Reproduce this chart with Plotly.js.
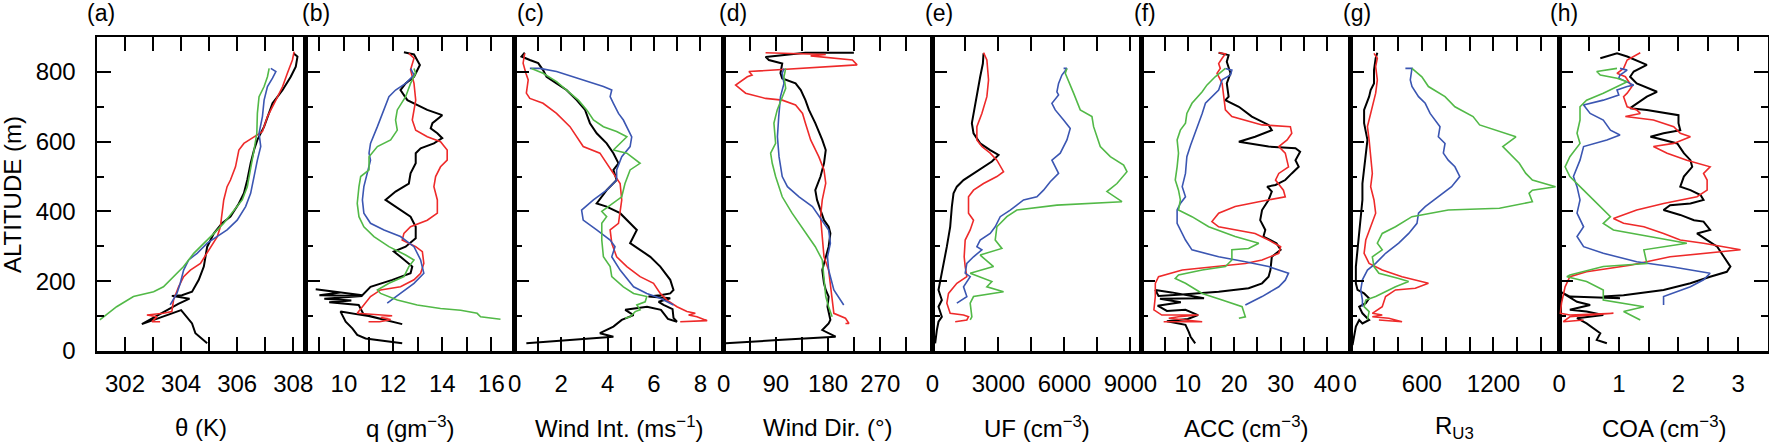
<!DOCTYPE html>
<html>
<head>
<meta charset="utf-8">
<script src="https://cdn.plot.ly/plotly-3.0.1.min.js"></script>
<style>
  html, body { margin: 0; padding: 0; background: #fff; }
  #graph { width: 1769px; height: 445px; }
</style>
</head>
<body>
<div id="graph"></div>
<script>
// (a) potential temperature, K
var thetaBlack = [308.01,308.15,308.09,307.91,307.62,307.26,306.96,306.72,306.6,306.48,306.36,306.24,306.06,305.76,305.46,305.17,304.93,304.81,304.63,304.39,304.03,303.67,304.3,303.9,302.6,303.7,304.0,304.39,304.51,304.93];
var thetaBlackAlt = [853,844,815,786,748,710,643,605,576,538,490,452,423,385,366,337,299,242,204,170,160,158,150,135,77,110,117,79,51,22];
var thetaRed = [308.03,307.97,307.79,307.62,307.38,307.08,306.9,306.6,306.24,306.06,305.94,305.76,305.64,305.52,305.46,305.4,305.29,304.93,304.69,304.33,304.09,303.91,303.73,303.67,303.37,302.78,303.14,302.96,303.25];
var thetaRedAlt = [858,834,796,758,719,672,629,614,595,576,528,490,471,433,395,356,328,280,251,232,213,184,146,113,108,103,98,84,84];
var thetaBlue = [307.2,307.38,307.26,307.08,306.96,306.9,306.78,306.84,306.72,306.6,306.48,306.3,306.0,305.64,305.29,304.93,304.57,304.27,304.09,303.97,303.85,303.61];
var thetaBlueAlt = [810,801,782,758,719,672,624,586,547,500,452,414,375,347,328,309,280,261,232,194,165,132];
var thetaGreen = [307.14,307.08,306.96,306.78,306.72,306.7,306.6,306.48,306.36,306.18,305.88,305.52,305.17,304.81,304.45,304.09,303.73,303.37,303.02,302.3,301.7,301.1];
var thetaGreenAlt = [810,786,758,729,681,624,576,528,471,433,404,366,337,309,280,242,213,184,170,156,127,89];

// (b) humidity, g m-3
var qBlack = [12.44,12.85,13.09,12.85,12.51,12.3,12.58,13.39,14.0,13.6,13.53,13.8,14.0,13.66,13.12,12.92,12.92,12.71,12.64,12.1,11.69,12.1,12.71,12.92,12.92,12.51,12.03,12.3,12.78,12.71,11.97,11.08,10.81,10.75,8.85,9.85,9.0,10.75,9.2,10.3,9.4,10.6,10.8,12.37,11.0,9.86,10.07,10.34,10.54,10.88,12.37];
var qBlackAlt = [856,850,820,786,767,748,719,691,676,653,638,624,610,595,581,567,538,509,480,457,433,414,385,356,323,299,285,270,242,223,204,184,165,160,177,168,160,158,150,145,140,132,105,77,100,113,84,65,46,36,22];
var qRed = [12.64,12.85,12.71,12.85,12.92,12.78,12.92,13.39,13.93,14.2,14.2,13.93,13.73,13.66,13.8,13.8,13.39,12.71,12.44,12.37,12.92,13.19,13.25,13.12,12.85,12.3,11.49,11.08,10.75,10.54,11.96,11.5,11.9,11.45,11.0];
var qRedAlt = [853,839,806,767,719,662,633,614,600,576,547,528,500,471,433,395,375,356,337,318,299,285,251,223,204,184,175,156,127,108,101,96,90,84,84];
var qBlue = [12.71,12.85,12.51,12.1,11.83,11.63,11.36,11.08,11.02,11.08,10.95,10.81,10.75,10.81,11.08,11.63,12.3,12.85,13.12,13.25,12.85,12.3,11.76];
var qBlueAlt = [810,791,767,748,729,691,643,595,567,547,509,471,433,395,366,347,328,299,261,223,194,165,137];
var qGreen = [12.85,12.92,12.71,12.51,12.17,12.1,12.17,11.9,11.36,11.02,11.02,10.68,10.61,10.54,10.61,10.81,11.22,11.83,12.51,12.85,12.64,12.44,11.83,11.36,11.49,12.17,12.98,13.93,14.75,15.42,15.56,16.37];
var qGreenAlt = [810,796,767,729,691,662,633,605,586,557,519,500,471,423,385,356,328,299,275,261,242,213,194,175,165,146,132,122,117,108,98,91];

// (c) wind intensity, m s-1
var windBlack = [0.43,0.29,0.65,1.01,1.22,1.37,1.8,2.23,2.67,3.03,3.24,3.53,3.96,4.25,4.47,4.25,4.39,3.96,3.53,3.96,4.54,4.97,5.26,4.97,5.4,5.84,6.27,6.7,6.84,6.7,6.27,5.76,6.7,6.2,6.41,6.8,6.84,6.99,6.6,6.3,5.7,4.76,5.12,4.61,4.25,3.67,4.25,3.82,0.5];
var windBlackAlt = [855,844,834,825,805,786,767,748,719,691,653,624,595,567,538,519,490,461,423,414,395,366,347,309,290,270,242,204,175,165,160,156,151,141,132,120,95,84,92,118,127,118,103,89,70,51,41,39,22];
var windRed = [0.43,0.36,0.48,0.58,0.5,0.65,1.22,1.8,2.38,2.67,2.95,3.67,3.96,4.25,4.54,4.61,4.54,4.47,4.11,4.18,4.39,4.83,5.4,5.98,6.27,6.56,6.99,7.42,7.78,7.49,7.85,8.29,7.13];
var windRedAlt = [853,825,796,777,739,724,710,681,643,614,586,567,538,509,480,433,395,366,347,309,270,242,213,194,165,146,127,113,108,103,98,87,84];
var windBlue = [0.65,1.08,1.8,2.52,3.24,3.82,4.18,4.11,4.25,4.47,4.68,4.83,5.04,4.97,4.61,4.39,4.39,3.96,3.39,2.88,2.95,3.53,4.11,4.32,4.18,4.54,5.12,5.69,6.27,6.84];
var windBlueAlt = [810,810,801,786,772,758,748,729,710,681,662,643,614,586,557,519,490,461,433,404,375,347,318,299,270,232,184,165,151,132];
var windGreen = [0.72,1.22,1.8,2.23,2.74,3.1,3.39,3.82,4.39,4.83,4.54,4.25,4.83,5.4,4.97,4.75,4.61,4.11,3.75,3.96,3.75,3.75,3.82,4.11,4.18,4.68,5.12,5.69,5.62,5.26,5.4,5.19,4.97,4.75];
var windGreenAlt = [810,796,772,748,719,691,662,643,629,614,595,576,567,538,519,480,442,418,400,385,366,318,270,242,213,184,165,156,141,132,118,113,98,94];

// (d) wind direction, degrees
var dirBlack = [224.5,141,72.3,78,101,98,101,124,133,141,147,158,170,176,173,167,158,161,167,173,181,184,181,176,170,173,176,181,179,184,181,170,193,101,3.4];
var dirBlackAlt = [855,855,843,834,824,796,781,767,748,719,691,653,605,576,538,500,461,433,404,375,356,337,299,270,232,194,175,156,127,89,79,60,41,32,22];
var dirRed = [72.3,176,150,222,230,43.6,49,40.8,20.7,37.9,72.3,101,124,136,141,150,164,173,176,170,167,170,173,181,184,187,190,210,216,210];
var dirRedAlt = [855,850,846,834,820,801,791,786,762,739,724,719,705,681,653,605,557,519,481,433,385,328,270,232,184,137,108,94,79,79];
var dirBlue = [104,101,104,98,95,92.7,95.5,101,110,130,153,170,181,184,179,181,190,207];
var dirBlueAlt = [810,796,767,729,672,614,557,500,471,442,414,375,347,309,270,232,175,132];
var dirGreen = [107,104,107,101,92.4,86.7,89.6,81,83.8,89.6,101,118,138,158,170,173,176,181,187];
var dirGreenAlt = [810,786,753,729,691,653,595,567,538,500,442,395,347,299,261,203,156,127,98];

// (e) ultrafine particles, cm-3
var ufBlack = [2321,2291,2169,2018,1866,1790,1866,2169,2624,3004,2700,2321,1866,1411,1107,956,880,804,652,501,349,273,425,273,425,273,197,121];
var ufBlackAlt = [853,824,786,729,681,653,624,595,576,562,543,528,509,490,471,452,414,356,299,251,204,175,146,127,98,84,60,22];
var ufRed = [2321,2473,2549,2473,2245,2018,2018,2245,2624,2928,3231,2928,2321,1866,1638,1638,1866,1714,1487,1441,1487,1562,1107,728,652,804,1411,1638,1562,1032];
var ufRedAlt = [855,834,777,729,681,643,605,586,567,547,514,500,480,461,442,395,375,347,318,270,242,213,194,165,137,108,103,98,89,84];
var ufBlue = [5962,6114,5886,5734,5658,5734,5431,5582,5962,6265,6114,5810,5431,5582,5734,5355,5051,4748,4141,3535,3080,2852,2624,2169,2018,2245,1866,1562,1487,1714,1411,1562,1107];
var ufBlueAlt = [810,810,791,767,743,734,710,691,662,638,605,567,547,528,509,485,461,442,433,404,385,356,337,318,299,290,270,251,223,213,184,156,137];
var ufGreen = [6114,6038,6417,6720,7252,7327,7631,8086,8693,8845,8390,7934,8617,5658,3838,3383,2928,2852,3155,2169,2776,1714,2700,2473,3231,1866,1714,1790,1714];
var ufGreenAlt = [810,796,739,691,672,643,586,557,533,514,480,457,428,418,404,385,356,318,294,275,242,223,199,184,170,156,137,98,89];

// (f) accumulation mode, cm-3
var accBlack = [16.65,18.8,18.4,19.2,18.4,18.8,18.1,21,23.8,27.4,28.1,24.5,21,27.4,33.2,34.2,33.2,33.9,32.4,31,28.9,27.1,28.1,27.4,26,25.6,26.7,26.3,29.1,30,28.1,27.8,27.4,26,23.1,16.65,8.8,3.7,3.0,6.5,13.5,4.0,8.5,3.5,5.5,9.5,12.2,10.0,5.5,9.5,10.2,10.6,11.6];
var accBlackAlt = [855,848,829,796,767,729,719,700,672,648,633,614,600,586,581,571,547,528,509,490,476,471,457,433,404,375,347,328,309,290,270,232,213,194,180,170,162,158,175,168,151,150,140,130,115,118,103,92,85,75,55,41,22];
var accRed = [16.65,18.1,17.4,16.65,17,16.3,17.4,17.7,18.1,19.5,26,32.1,32.4,31.4,29.6,31,31.7,29.6,28.9,30.6,31,25.3,20.2,16.65,15.2,16.65,20.2,24.5,27.4,30,29.6,26,22.4,15.2,8.8,3.7,3.0,3.0,2.7,4.4,12.3,8.0,5.9,13.1,4.8];
var accRedAlt = [855,852,839,824,810,796,767,729,691,672,648,643,624,605,586,567,528,509,490,461,442,428,414,395,371,356,347,337,318,299,280,261,251,242,232,213,194,156,118,103,103,98,94,84,84];
var accBlue = [18.1,19.5,19.2,17.4,16.65,15.2,13.8,13.1,12.0,11.3,10.6,9.8,9.5,8.8,9.5,8.4,7.7,7.7,8.4,9.5,10.9,16.65,22.4,27.4,31.7,31,29.6,26,22.4];
var accBlueAlt = [810,805,791,777,748,729,710,681,643,614,590,557,509,471,442,423,404,366,347,318,290,270,256,242,223,203,184,156,132];
var accGreen = [18.1,15.9,14.1,13.1,10.9,9.8,9.5,8.4,7.7,8.0,7.7,7.3,8.0,8.4,8.0,10.9,14.5,20.2,25.3,23.1,19.5,19.5,18.1,13.1,8.0,7.3,9.5,13.1,17.4,21.7,22.4,21];
var accGreenAlt = [810,786,762,743,710,681,653,633,605,567,528,490,461,433,404,385,356,328,309,294,290,261,242,232,218,208,194,165,146,127,98,94];

// (g) R_U3 ratio
var ruBlack = [227,213,199,199,171,158,116,116,144,130,116,102,102,88,75,61,47,47,61,116,158,130,75,102,158,102,75,47,33,19];
var ruBlackAlt = [855,839,805,767,748,729,691,653,605,557,519,480,433,385,337,290,242,194,175,165,151,137,127,108,89,79,89,70,41,17];
var ruRed = [199,227,213,227,213,185,144,158,171,185,171,199,213,171,130,116,158,268,434,655,545,379,296,268,185,268,185,323,434,240];
var ruRedAlt = [853,839,815,777,739,700,643,605,557,509,471,433,395,356,318,280,251,232,213,194,180,175,156,127,108,103,98,94,84,89];
var ruBlue = [462,517,503,517,572,628,669,711,752,738,794,780,821,877,918,849,738,628,572,559,490,406,296,213,144,102,88,102,102];
var ruBlueAlt = [810,810,777,758,729,710,681,662,643,614,595,567,547,528,500,471,442,414,395,366,337,309,280,251,232,204,175,146,127];
var ruGreen = [517,600,655,794,877,1029,1084,1388,1278,1333,1416,1471,1526,1720,1526,1498,1526,1250,821,517,379,268,227,268,185,199,240,406,489,379,268,213,130,116,158,144];
var ruGreenAlt = [810,786,758,729,700,672,648,614,586,567,538,509,490,471,461,452,428,409,404,385,356,337,309,290,270,242,223,208,199,184,165,156,146,127,113,89];

// (h) COA, cm-3
var coaBlack = [0.69,0.97,1.14,1.47,1.25,1.19,1.30,1.64,1.47,1.30,1.19,1.47,2.0,2.0,2.03,1.75,1.53,1.64,1.98,2.09,2.2,2.23,2.09,2.03,2.2,2.37,2.42,2.2,1.86,1.75,2.03,2.26,2.42,2.53,2.31,2.48,2.65,2.76,2.87,2.81,2.53,2.2,1.75,1.08,0.74,1.02,0.18,0.02,0.30,0.52,0.18,0.46,0.74,0.30,0.46,0.69,0.63,0.80];
var coaBlackAlt = [839,853,844,820,801,786,767,743,729,710,696,691,676,653,633,624,614,610,595,567,547,528,500,471,461,447,433,423,418,404,390,375,371,347,337,318,299,270,242,227,213,194,175,160,156,151,156,170,141,132,118,113,103,94,79,51,32,22];
var coaRed = [1.36,1.14,1.08,0.97,1.11,1.22,1.14,1.08,1.14,1.30,1.36,1.11,1.58,1.92,2.03,2.2,1.92,1.58,1.81,2.14,2.53,2.42,2.48,2.48,2.31,1.75,1.30,0.91,1.08,1.42,1.75,2.03,2.42,3.04,1.86,1.19,0.46,0.18,0.10,0.04,0.02,0.18,0.91,0.18,0.07,0.41];
var coaRedAlt = [855,834,810,796,786,758,739,729,700,691,681,672,662,643,624,614,595,586,567,547,528,509,490,461,442,423,404,380,366,356,337,318,309,290,270,246,227,213,184,137,108,103,108,98,84,89];
var coaBlue = [1.02,1.14,1.02,1.0,1.25,1.14,0.97,1.0,0.74,0.41,0.52,0.74,0.86,1.02,0.80,0.58,0.41,0.35,0.24,0.30,0.35,0.30,0.41,0.30,0.41,0.74,1.30,1.86,2.53,2.42,2.2,1.75,1.75];
var coaBlueAlt = [810,805,791,782,762,758,748,734,719,705,681,662,633,619,605,595,586,547,500,471,433,395,356,328,299,280,256,242,223,204,184,156,132];
var coaGreen = [0.97,0.63,0.69,0.97,1.14,0.97,0.74,0.46,0.35,0.35,0.30,0.35,0.18,0.10,0.18,0.41,0.63,0.86,0.74,0.91,2.14,1.42,1.47,0.74,0.18,0.13,0.46,0.74,0.74,1.42,1.08,1.36];
var coaGreenAlt = [810,801,791,782,772,758,739,719,700,662,624,595,557,528,500,461,423,385,366,347,309,290,251,242,218,213,199,175,146,127,113,89];

// axis ticks and labels
var panelLetters = ['(a)','(b)','(c)','(d)','(e)','(f)','(g)','(h)'];
var xTitles = ['θ (K)', 'q (gm<sup>−3</sup>)', 'Wind Int. (ms<sup>−1</sup>)', 'Wind Dir. (°)',
               'UF (cm<sup>−3</sup>)', 'ACC (cm<sup>−3</sup>)', 'R<sub>U3</sub>', 'COA (cm<sup>−3</sup>)'];
var xRanges = [[301, 308.45], [8.45, 16.95], [0, 9], [0, 360], [0, 9500], [0, 45], [0, 1750], [0, 3.5]];
var xTickVals = [
  [302,304,306,308],
  [10,12,14,16],
  [0,2,4,6,8],
  [0,90,180,270],
  [0,3000,6000,9000],
  [10,20,30,40],
  [0,600,1200],
  [0,1,2,3]
];
var xMinorVals = [
  [303,305,307],
  [9,11,13,15],
  [1,3,5,7],
  [45,135,225,315],
  [1500,4500,7500],
  [5,15,25,35],
  [200,400,800,1000,1400,1600],
  [0.5,1.5,2.5]
];
var altTicks = [0,200,400,600,800];

var profiles = [
  [[thetaBlack,thetaBlackAlt],[thetaRed,thetaRedAlt],[thetaBlue,thetaBlueAlt],[thetaGreen,thetaGreenAlt]],
  [[qBlack,qBlackAlt],[qRed,qRedAlt],[qBlue,qBlueAlt],[qGreen,qGreenAlt]],
  [[windBlack,windBlackAlt],[windRed,windRedAlt],[windBlue,windBlueAlt],[windGreen,windGreenAlt]],
  [[dirBlack,dirBlackAlt],[dirRed,dirRedAlt],[dirBlue,dirBlueAlt],[dirGreen,dirGreenAlt]],
  [[ufBlack,ufBlackAlt],[ufRed,ufRedAlt],[ufBlue,ufBlueAlt],[ufGreen,ufGreenAlt]],
  [[accBlack,accBlackAlt],[accRed,accRedAlt],[accBlue,accBlueAlt],[accGreen,accGreenAlt]],
  [[ruBlack,ruBlackAlt],[ruRed,ruRedAlt],[ruBlue,ruBlueAlt],[ruGreen,ruGreenAlt]],
  [[coaBlack,coaBlackAlt],[coaRed,coaRedAlt],[coaBlue,coaBlueAlt],[coaGreen,coaGreenAlt]]
];

var lineColors = ['#000000', '#ee2a2a', '#3b56b2', '#52b947'];
var lineWidths = [2, 1.6, 1.6, 1.6];

var FONT = 'Liberation Sans, Arial, Helvetica, sans-serif';
var W = 1769, H = 445, ML = 97, MR = 1, MT = 37, MB = 94;
var plotW = W - ML - MR, plotH = H - MT - MB;
function px2x(px) { return (px - ML) / plotW; }
function py2y(py) { return (H - MB - py) / plotH; }

var graphData = [];
var layout = {
  width: W, height: H,
  margin: {l: ML, r: MR, t: MT, b: MB},
  paper_bgcolor: '#ffffff',
  plot_bgcolor: '#ffffff',
  showlegend: false,
  font: {family: FONT, size: 24, color: '#000'},
  annotations: []
};

for (var i = 0; i < 8; i++) {
  var n = i + 1;
  var xk = n === 1 ? 'xaxis' : 'xaxis' + n;
  var yk = n === 1 ? 'yaxis' : 'yaxis' + n;
  var xr = n === 1 ? 'x' : 'x' + n;
  var yr = n === 1 ? 'y' : 'y' + n;

  for (var s = 0; s < 4; s++) {
    graphData.push({
      x: profiles[i][s][0],
      y: profiles[i][s][1],
      xaxis: xr, yaxis: yr,
      type: 'scatter', mode: 'lines',
      line: {color: lineColors[s], width: lineWidths[s]},
      hoverinfo: 'skip'
    });
  }

  layout[xk] = {
    domain: [i / 8, (i + 1) / 8],
    anchor: yr,
    range: xRanges[i],
    tickmode: 'array',
    tickvals: xTickVals[i],
    ticks: 'inside', ticklen: 14, tickwidth: 2, tickcolor: '#000',
    minor: {tickmode: 'array', tickvals: xMinorVals[i], ticks: 'inside', ticklen: 14,
            tickwidth: 2, tickcolor: '#000', showgrid: false},
    showline: true, linewidth: 2.5, linecolor: '#000',
    mirror: 'ticks',
    showgrid: false, zeroline: false,
    ticklabelstandoff: 10,
    tickfont: {family: FONT, size: 24, color: '#000'}
  };

  layout[yk] = {
    domain: [0, 1],
    anchor: xr,
    range: [0, 900],
    tickmode: 'array',
    tickvals: altTicks,
    ticks: 'inside', ticklen: 14, tickwidth: 2, tickcolor: '#000',
    minor: {dtick: 100, ticks: 'inside', ticklen: 7, tickwidth: 2, tickcolor: '#000', showgrid: false},
    showline: true, linewidth: 2.5, linecolor: '#000',
    mirror: n === 8 ? 'ticks' : true,
    showgrid: false, zeroline: false,
    showticklabels: n === 1,
    ticklabelstandoff: 14,
    tickfont: {family: FONT, size: 24, color: '#000'}
  };

  layout.annotations.push({
    xref: 'paper', yref: 'paper',
    x: (i + 0.5) / 8, y: py2y(427),
    xanchor: 'center', yanchor: 'middle',
    text: xTitles[i], showarrow: false,
    font: {family: FONT, size: 24, color: '#000'}
  });
}

var letterPx = [101, 316, 530, 733, 939, 1145, 1357, 1564];
for (var k = 0; k < 8; k++) {
  layout.annotations.push({
    xref: 'paper', yref: 'paper',
    x: px2x(letterPx[k]), y: py2y(13),
    xanchor: 'center', yanchor: 'middle',
    text: panelLetters[k], showarrow: false,
    font: {family: FONT, size: 23, color: '#000'}
  });
}

layout.annotations.push({
  xref: 'paper', yref: 'paper',
  x: px2x(12), y: py2y(195),
  xanchor: 'center', yanchor: 'middle',
  textangle: -90,
  text: 'ALTITUDE (m)', showarrow: false,
  font: {family: FONT, size: 24, color: '#000'}
});

Plotly.newPlot('graph', graphData, layout, {staticPlot: true, displayModeBar: false});
</script>
</body>
</html>
